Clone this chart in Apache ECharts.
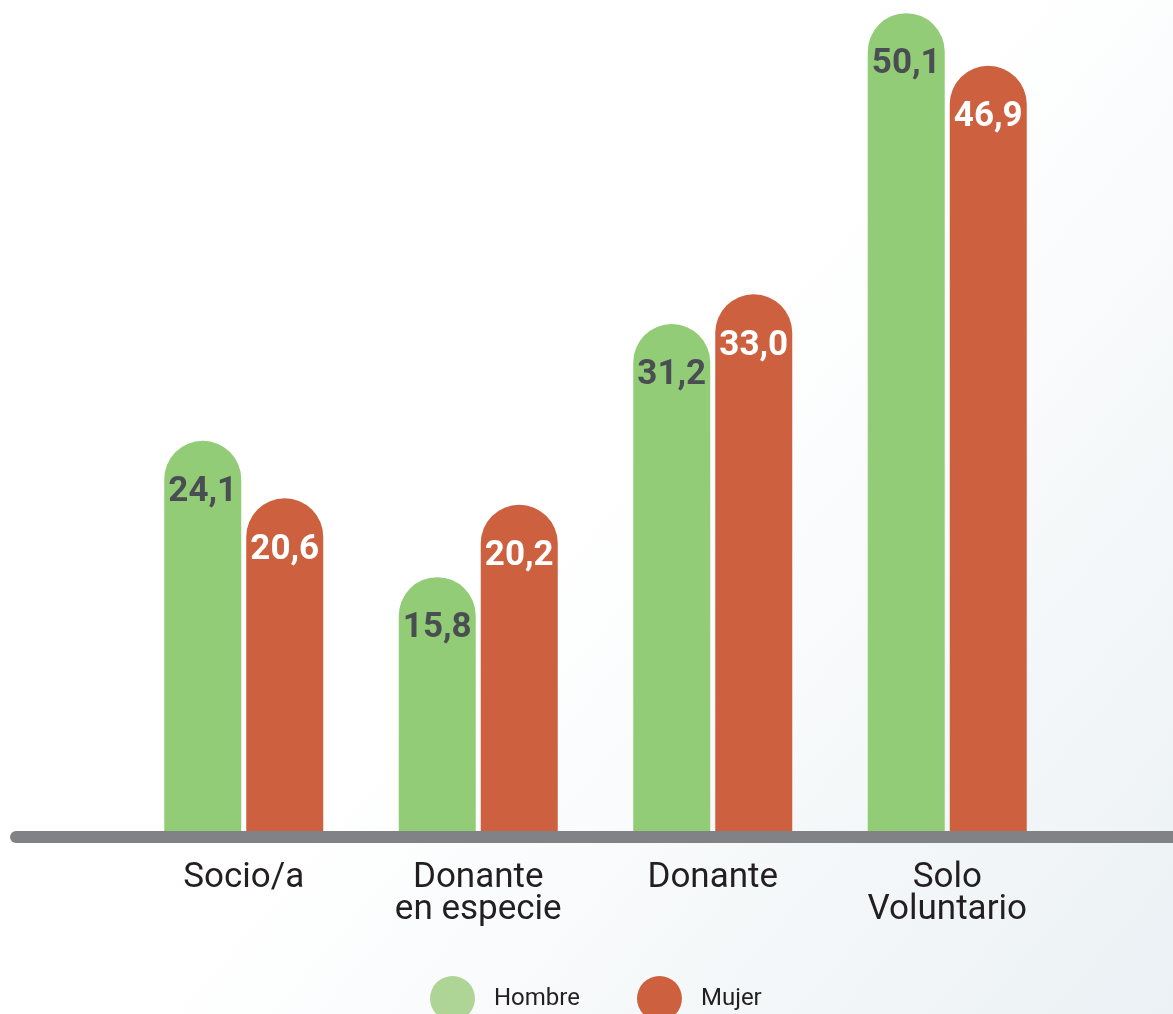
<!DOCTYPE html>
<html><head><meta charset="utf-8">
<script src="https://cdn.jsdelivr.net/npm/echarts@6/dist/echarts.min.js"></script>
<style>html,body{margin:0;padding:0;}#c{width:1173px;height:1014px;}</style>
</head><body><div id="c"></div>
<script>
const categories = ['Socio/a', 'Donante\nen especie', 'Donante', 'Solo\nVoluntario'];
const hombre = [24.1, 15.8, 31.2, 50.1];
const mujer = [20.6, 20.2, 33.0, 46.9];
const seriesNames = ['Hombre', 'Mujer'];

const chart = echarts.init(document.getElementById('c'));
const fmt = p => p.value.toFixed(1).replace('.', ',');
const labelBase = {show: true, position: 'insideTop', distance: 34, fontFamily: 'Roboto', fontWeight: 'bold', fontSize: 35, formatter: fmt};
chart.setOption({
  backgroundColor: {type: 'linear', x: 0, y: 0, x2: 1, y2: 1, colorStops: [{offset: 0, color: '#ffffff'}, {offset: 0.5, color: '#ffffff'}, {offset: 1, color: '#ebf1f4'}]},
  animation: false,
  grid: {left: 126.5, width: 938, top: 0, height: 837},
  xAxis: {type: 'category', data: categories, axisLine: {show: false}, axisTick: {show: false},
    axisLabel: {margin: 25, fontFamily: 'Roboto', fontSize: 35, lineHeight: 32, color: '#231f20'}},
  yAxis: {type: 'value', min: 0, max: 50.9, show: false, splitLine: {show: false}},
  legend: {left: 425, top: 971, icon: 'circle', itemWidth: 45, itemHeight: 45, itemGap: 57,
    textStyle: {fontFamily: 'Roboto', fontSize: 24, color: '#231f20', padding: [0, 0, 0, 14]},
    data: [{name: 'Hombre', itemStyle: {color: '#aed596'}}, {name: 'Mujer', itemStyle: {color: '#cd603e'}}]},
  series: [
    {name: seriesNames[0], type: 'bar', data: hombre, barWidth: 77, barGap: '6.5%',
     itemStyle: {color: '#93cc77', borderRadius: [38.5, 38.5, 0, 0]},
     label: Object.assign({}, labelBase, {color: '#4a4d52'})},
    {name: seriesNames[1], type: 'bar', data: mujer, barWidth: 77,
     itemStyle: {color: '#cd603e', borderRadius: [38.5, 38.5, 0, 0]},
     label: Object.assign({}, labelBase, {color: '#ffffff'})}
  ],
  graphic: [{type: 'line', z: 100, shape: {x1: 16, y1: 837, x2: 1190, y2: 837},
    style: {stroke: '#808285', lineWidth: 12, lineCap: 'round'}}]
});
</script></body></html>
